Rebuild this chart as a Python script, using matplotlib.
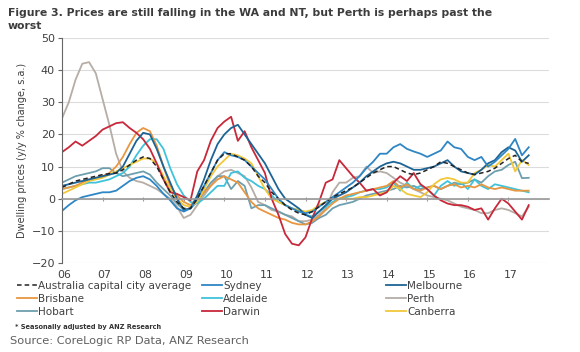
import numpy as np
import matplotlib
matplotlib.use("Agg")
import matplotlib.pyplot as plt

# bi-monthly observations, Jan 2006 .. mid 2017 (y/y % change, s.a.)
start_year = 2006
steps_per_year = 6

avg = [3.5, 4.5, 5.5, 6, 6.5, 7,
       7.5, 7.8, 8, 9, 10.5, 12,
       13, 12.5, 10, 6, 2, -1,
       -3, -3, 0, 4, 8, 12,
       14, 14, 13, 12, 10, 7,
       5, 2, 0, -2, -3.5, -4.5,
       -5, -4, -2.5, -1, 0.5, 1.5,
       2.5, 3.5, 5, 6.5, 8, 9,
       10, 10, 9, 8, 7.5, 8,
       9, 10, 11.5, 11, 10, 9,
       8, 7.5, 8, 8.5, 9.5, 11,
       12.5, 13.5, 11.5, 11]

sydney = [-3.8, -2, -0.5, 0.5, 1, 1.5,
          2, 2, 2.5, 4, 5.5, 6.5,
          7, 6, 4, 1.5, -0.5, -3,
          -4, -3, 0, 4, 8, 12,
          14.5, 13.5, 13, 12, 10, 8,
          6, 3, 0, -2, -3, -4,
          -4.5, -4, -2.5, -1, 0.5, 2,
          3.5, 5, 7, 9.5, 11.5, 14,
          14, 16, 17, 15.5, 14.7, 14,
          13, 14, 15, 17.8, 16, 15.5,
          13, 12, 13, 10, 11.5, 13.5,
          15.5, 18.6, 13.5, 16]

melbourne = [4, 4.5, 5, 5.5, 6, 6.5,
             7, 7.5, 8, 10, 14, 18,
             20.5, 20, 15.5, 10, 5, 0,
             -3.5, -3, 1, 6, 12, 17,
             20, 22, 23, 20, 17, 14,
             11, 7, 3, 0, -1.5, -3,
             -5, -6, -4, -2, 0, 1,
             2, 3.5, 5, 7, 8.5, 10,
             11, 11.5, 11, 10, 9, 9,
             9.5, 10, 11, 12, 10, 8.5,
             8, 7.5, 9, 11, 12, 14.5,
             16, 15, 11.5, 13.5]

brisbane = [3, 3.5, 4, 5, 6, 6.5,
            7, 8, 10, 13, 17, 20.5,
            22, 21, 16.5, 10, 4, 1,
            -1, -2, 0, 2, 4, 6,
            7, 6, 5, 2, -1, -3,
            -4, -5, -6, -6.5, -7.5, -8,
            -8, -7, -5.5, -3.5, -1.5, 0,
            1, 1.5, 2, 2.5, 3, 3.5,
            4, 5.5, 3.5, 4.5, 3, 2.5,
            3.5, 4, 3, 4, 4.5, 3.5,
            4, 3.5, 4.5, 3.5, 3, 3.5,
            3, 2.5, 2.5, 2.5]

adelaide = [3, 3.5, 4, 4.5, 5, 5,
            5.5, 6, 7, 8, 10, 13.5,
            16.5, 18.5, 18.5, 15.5, 9.5, 4.5,
            1, -1, -1.5, 0, 2, 4,
            4, 8, 8.5, 6.5, 5.5, 4,
            3, 1, -1, -2, -3, -3.5,
            -5, -5.5, -4, -2.5, -1, 0,
            0.5, 1, 2, 2.5, 3, 3,
            3.5, 5, 2.5, 5, 3, 4,
            3, 1, 4, 5.5, 4, 5,
            3, 6, 4, 3, 4.5, 4,
            3.5, 3, 2.5, 2]

perth = [25, 30, 37, 42, 42.5, 39,
         31, 23, 14, 8.5, 6.5, 5.5,
         5, 4, 3, 1.5, 0, -2.5,
         -6, -5, -2, 1, 4, 7,
         8.5, 9, 8, 7, 3.5, -1,
         -2, -3.5, -4, -5, -5.5, -7,
         -7, -6.5, -5, -3, 2, 5,
         5, 6.5, 7, 10, 8, 8.5,
         8, 6.5, 5, 4, 3, 2,
         1, 0.5, 0, -0.5, -1.5, -2.5,
         -3, -3.5, -4.5, -4.5, -3.5, -3,
         -3.5, -4.5, -5.5, -2.5]

hobart = [5, 6, 7, 7.5, 8, 8.5,
          9.5, 9.5, 8, 7, 7.5, 8,
          8.5, 7.5, 5, 3, 1, -1.5,
          -3.5, -3, -1, 2, 5, 7,
          7, 3, 5.5, 4, -3, -2,
          -2, -3, -4, -5, -6, -7,
          -8, -7.5, -6, -5, -3, -2,
          -1.5, -1, 0, 1, 1.5, 2,
          2.5, 3, 4, 3.5, 4, 3,
          3.5, 4, 3, 4, 5, 4.5,
          5, 6, 5, 7, 8.5, 9,
          10.5, 11.5, 6.4, 6.5]

darwin = [14.5, 16, 17.8, 16.5, 18, 19.5,
          21.5, 22.5, 23.5, 23.8, 22, 20.5,
          18.5, 15.5, 11, 6, 2, 1.5,
          0.5, -0.5, 8.5, 12, 18, 22,
          24, 25.5, 18, 21, 16, 12,
          8, 0, -5, -11, -14, -14.5,
          -12, -6, -1, 5, 6, 12,
          9.5, 7, 5, 2.5, 3, 1,
          2, 5, 7, 5.5, 8, 4.5,
          3, 1, -0.5, -1.5, -2, -2,
          -2.5, -3.5, -3, -6.5, -3, 0,
          -1.5, -4, -6.5, -2]

canberra = [1.5, 2.5, 3.5, 4.5, 5.5, 6,
            6.5, 7.5, 8.5, 9.5, 10.5, 11.5,
            12.5, 12.5, 11, 7, 3, 0,
            -2, -2.5, -1, 3, 7, 10,
            12, 14, 13.5, 12.5, 11, 7,
            3, 0, -1, -2, -3, -3.5,
            -4, -3.5, -2, -1, 0, 0,
            0, 0, 0.5, 0.5, 1, 1.5,
            2, 4, 3, 1.5, 1, 0.5,
            2, 4.5, 6, 6.5, 6, 5,
            5, 8, 9, 10.5, 10, 12,
            14, 8.5, 12, 10.5]

year_labels = ["06", "07", "08", "09", "10", "11", "12", "13", "14", "15", "16", "17"]

t = start_year + np.arange(len(avg)) / steps_per_year

series = [
    ("Perth", perth, "#b5ada6"),
    ("Hobart", hobart, "#6e9fae"),
    ("Adelaide", adelaide, "#3fc3da"),
    ("Brisbane", brisbane, "#e8963f"),
    ("Canberra", canberra, "#f2c83a"),
    ("Darwin", darwin, "#c8283a"),
    ("Melbourne", melbourne, "#1d6496"),
    ("Sydney", sydney, "#2f86c4"),
]

fig = plt.figure(figsize=(5.8, 3.52), dpi=100)
ax = fig.add_axes([62 / 580, 1 - 263 / 352, 487 / 580, 225 / 352])

handles = {}
for name, vals, col in series:
    handles[name], = ax.plot(t, vals, color=col, lw=1.3, label=name)
handles["avg"], = ax.plot(t, avg, color="#222222", lw=1.1, dashes=(3, 2),
                          label="Australia capital city average")

ax.set_xlim(2006, 2018)
ax.set_ylim(-20, 50)
ax.set_yticks(range(-20, 51, 10))
ax.yaxis.grid(True, color="#dcdcdc", lw=0.8)
ax.set_axisbelow(True)

for s in ["top", "right"]:
    ax.spines[s].set_visible(False)
ax.spines["left"].set_color("#666666")
ax.spines["bottom"].set_position(("data", 0))
ax.spines["bottom"].set_color("#999999")
ax.spines["bottom"].set_linewidth(1.2)
ax.set_xticks(np.arange(2006, 2018))
ax.tick_params(axis="x", length=3, direction="inout", color="#999999", labelbottom=False)
ax.tick_params(axis="y", length=3, color="#666666", labelsize=8, labelcolor="#404040", pad=2)

sec = ax.secondary_xaxis("bottom")
sec.set_xticks(np.arange(2006, 2018) + 0.05, year_labels)
sec.tick_params(length=0, labelsize=7.8, labelcolor="#404040", pad=5)
sec.spines["bottom"].set_visible(False)

ax.set_ylabel("Dwelling prices (y/y % change, s.a.)", fontsize=7, color="#404040", labelpad=3)

fig.text(8 / 580, 1 - 8 / 352,
         "Figure 3. Prices are still falling in the WA and NT, but Perth is perhaps past the\nworst",
         fontsize=7.8, fontweight="bold", color="#3c3c3c", va="top", ha="left", linespacing=1.4)

cols = [
    (["avg", "Brisbane", "Hobart"], 17),
    (["Sydney", "Adelaide", "Darwin"], 202),
    (["Melbourne", "Perth", "Canberra"], 386),
]
for names, x0 in cols:
    hs = [handles[n] for n in names]
    fig.legend(hs, [h.get_label() for h in hs], loc="upper left",
               bbox_to_anchor=(x0 / 580, 1 - 281 / 352), frameon=False,
               fontsize=7.5, borderpad=0, borderaxespad=0, handlelength=1.9,
               handletextpad=0.15, labelspacing=0.28, labelcolor="#404040")

fig.text(15 / 580, 1 - 327 / 352, "* Seasonally adjusted by ANZ Research",
         fontsize=4.8, fontweight="bold", color="#333333", va="center")
fig.text(10 / 580, 1 - 341 / 352, "Source: CoreLogic RP Data, ANZ Research",
         fontsize=8.2, color="#606060", va="center")

fig.savefig("out.png", dpi=100)
